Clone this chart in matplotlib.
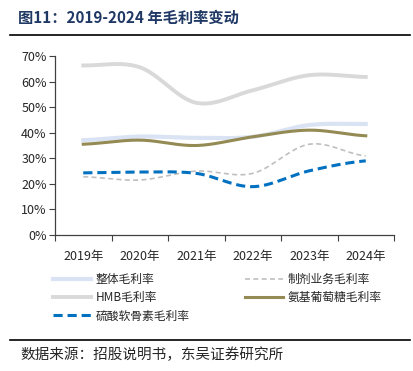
import numpy as np
import matplotlib
matplotlib.use("Agg")
import matplotlib.pyplot as plt
from matplotlib.lines import Line2D

plt.rcParams['font.family'] = ['Noto Sans CJK SC', 'DejaVu Sans']

years = ["2019年", "2020年", "2021年", "2022年", "2023年", "2024年"]
overall = [37.1, 38.5, 38.0, 38.4, 43.0, 43.4]
formulation = [22.8, 21.5, 25.0, 24.1, 35.5, 30.9]
hmb = [66.3, 65.6, 51.7, 56.6, 62.5, 61.8]
glucosamine = [35.5, 37.1, 35.0, 38.4, 41.0, 38.8]
chondroitin = [24.3, 24.6, 24.1, 18.9, 25.1, 29.0]


def smooth(xs, ys, n=30):
    xs = np.asarray(xs, float)
    ys = np.asarray(ys, float)
    px = np.concatenate([[2 * xs[0] - xs[1]], xs, [2 * xs[-1] - xs[-2]]])
    py = np.concatenate([[ys[0]], ys, [ys[-1]]])
    outx, outy = [], []
    for i in range(1, len(px) - 2):
        p0x, p1x, p2x, p3x = px[i - 1], px[i], px[i + 1], px[i + 2]
        p0y, p1y, p2y, p3y = py[i - 1], py[i], py[i + 1], py[i + 2]
        c1x, c1y = p1x + (p2x - p0x) / 6, p1y + (p2y - p0y) / 6
        c2x, c2y = p2x - (p3x - p1x) / 6, p2y - (p3y - p1y) / 6
        t = np.linspace(0, 1, n)
        bx = (1 - t) ** 3 * p1x + 3 * (1 - t) ** 2 * t * c1x + 3 * (1 - t) * t ** 2 * c2x + t ** 3 * p2x
        by = (1 - t) ** 3 * p1y + 3 * (1 - t) ** 2 * t * c1y + 3 * (1 - t) * t ** 2 * c2y + t ** 3 * p2y
        outx.extend(bx)
        outy.extend(by)
    return np.array(outx), np.array(outy)


fig = plt.figure(figsize=(4.13, 3.71), dpi=100)
ax = fig.add_axes([55 / 413, 1 - 235 / 371, 339 / 413, 179 / 371])

xc = np.arange(len(years)) + 0.5

series = [
    ("整体毛利率", overall, dict(color="#DAE3F3", lw=3.0, ls="-")),
    ("制剂业务毛利率", formulation, dict(color="#BFBFBF", lw=1.2, ls=(0, (3, 2)))),
    ("HMB毛利率", hmb, dict(color="#D9D9D9", lw=2.8, ls="-")),
    ("氨基葡萄糖毛利率", glucosamine, dict(color="#948A54", lw=2.2, ls="-")),
    ("硫酸软骨素毛利率", chondroitin, dict(color="#0070C0", lw=2.2, ls=(0, (3, 1.6)))),
]
handles = {}
for name, vals, st in series:
    sx, sy = smooth(xc, vals)
    ax.plot(sx, sy, **st)
    handles[name] = Line2D([], [], **st)

ax.set_xlim(0, 6)
ax.set_ylim(0, 70)
ax.set_yticks(np.arange(0, 71, 10))
ax.set_yticklabels([f"{v}%" for v in range(0, 71, 10)], fontsize=9, color="#262626")
ax.set_xticks(np.arange(0, 7))
ax.set_xticklabels([])
ax.set_xticks(xc, minor=True)
ax.set_xticklabels(years, minor=True, fontsize=9, color="#262626")
ax.tick_params(axis="x", which="minor", length=0, pad=11)
ax.tick_params(axis="x", which="major", length=4, color="#404040")
ax.tick_params(axis="y", length=4, color="#404040", pad=2)
for s in ["top", "right"]:
    ax.spines[s].set_visible(False)
for s in ["left", "bottom"]:
    ax.spines[s].set_color("#404040")
    ax.spines[s].set_linewidth(0.9)

col1 = ["整体毛利率", "HMB毛利率", "硫酸软骨素毛利率"]
col2 = ["制剂业务毛利率", "氨基葡萄糖毛利率"]
common = dict(loc="upper left", frameon=False, fontsize=8.5, handlelength=3.2,
              handletextpad=0.4, labelspacing=0.45, labelcolor="#262626",
              borderpad=0, borderaxespad=0)
fig.legend([handles[k] for k in col1], col1, bbox_to_anchor=(53 / 413, 1 - 273 / 371), **common)
fig.legend([handles[k] for k in col2], col2, bbox_to_anchor=(245 / 413, 1 - 273 / 371), **common)

fig.text(18 / 413, 1 - 18 / 371, "图11：2019-2024 年毛利率变动", fontsize=11,
         fontweight="bold", color="#1F3864", va="center", ha="left")
fig.add_artist(Line2D([10 / 413, 410 / 413], [1 - 35 / 371, 1 - 35 / 371], color="black", lw=1.2))
fig.add_artist(Line2D([10 / 413, 410 / 413], [1 - 340 / 371, 1 - 340 / 371], color="black", lw=1.2))
fig.text(20 / 413, 1 - 355 / 371, "数据来源：招股说明书，东吴证券研究所", fontsize=10.5,
         color="#262626", va="center", ha="left")

fig.savefig("out.png", dpi=100)
